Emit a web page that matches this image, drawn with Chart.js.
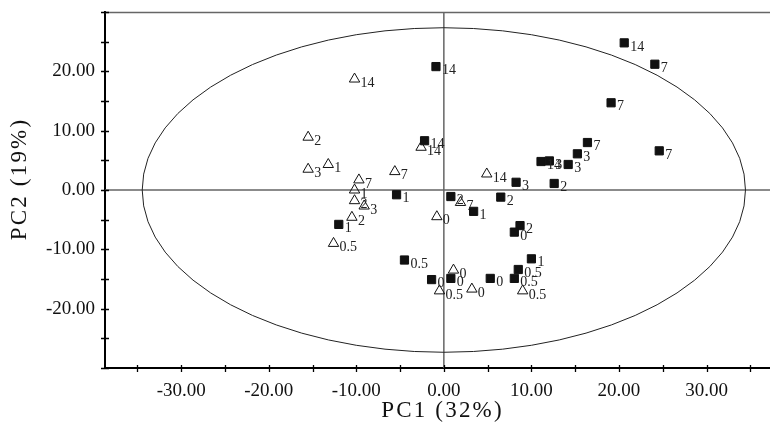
<!DOCTYPE html>
<html>
<head>
<meta charset="utf-8">
<script src="https://cdn.jsdelivr.net/npm/chart.js@4.4.1/dist/chart.umd.min.js"></script>
<style>
  html, body { margin: 0; padding: 0; background: #fff; }
  canvas { display: block; }
</style>
</head>
<body>
<canvas id="pca" width="770" height="428"></canvas>
<script>
// ── Data (PC1 / PC2 scores, label = day) ───────────────────────────
// filled squares
const sqX     = [20.6, 24.1, 19.1, 16.4, 15.25, 24.6, 14.2, 11.1, 12.05, 12.6, 8.25,
                 -0.9, -2.2, -5.4, -12.0, 0.8, 6.5, 3.4, 8.7, 8.05,
                 10.0, 8.5, 8.05, 5.3, 0.8, -1.4, -4.5];
const sqY     = [24.8, 21.2, 14.7, 8.0, 6.1, 6.6, 4.3, 4.8, 4.9, 1.1, 1.3,
                 20.8, 8.3, -0.8, -5.8, -1.1, -1.2, -3.6, -6.0, -7.1,
                 -11.6, -13.4, -14.9, -14.9, -14.9, -15.1, -11.8];
const sqLabel = ['14', '7', '7', '7', '3', '7', '3', '14', '3', '2', '3',
                 '14', '14', '1', '1', '2', '2', '1', '2', '0',
                 '1', '0.5', '0.5', '0', '0', '0', '0.5'];

// open triangles
const triX     = [-10.2, -15.5, -15.5, -13.2, -5.6, -9.7, -10.2, -10.2, -9.1, -10.5,
                  -12.6, -2.6, 4.9, 1.9, -0.8, 1.1, -0.5, 3.2, 9.0];
const triY     = [18.7, 8.9, 3.5, 4.3, 3.1, 1.7, 0.0, -1.8, -2.7, -4.6,
                  -9.0, 7.2, 2.7, -2.1, -4.5, -13.5, -17.0, -16.7, -17.0];
const triLabel = ['14', '2', '3', '1', '7', '7', '1', '2', '3', '2',
                  '0.5', '14', '14', '7', '0', '0', '0.5', '0', '0.5'];

// axis ranges and confidence ellipse (in data units)
const X_MIN = -38.7, X_MAX = 37.25;
const Y_MIN = -30, Y_MAX = 30;
const ELL_CX = 0, ELL_CY = 0, ELL_A = 34.45, ELL_B = 27.35;

const X_TITLE = 'PC1 (32%)', Y_TITLE = 'PC2 (19%)';
const SERIF = "'Liberation Serif', 'Times New Roman', serif";

function pts(xs, ys) { return xs.map((x, i) => ({ x, y: ys[i] })); }
function isStep(v, s) { return Math.abs(v / s - Math.round(v / s)) < 1e-6; }

// ── Plugins ────────────────────────────────────────────────────────
const frame = {
  id: 'frame',
  beforeDatasetsDraw(chart) {
    const { ctx, chartArea: a, scales: { x, y } } = chart;
    ctx.save();
    ctx.strokeStyle = '#666'; ctx.lineWidth = 1.5;
    const x0 = x.getPixelForValue(0), y0 = y.getPixelForValue(0);
    ctx.beginPath();
    ctx.moveTo(a.left, a.top + 0.5); ctx.lineTo(a.right, a.top + 0.5);
    ctx.moveTo(x0, a.top); ctx.lineTo(x0, a.bottom);
    ctx.moveTo(a.left, y0); ctx.lineTo(a.right, y0);
    ctx.stroke();

    // ellipse
    const cx = x.getPixelForValue(ELL_CX), cy = y.getPixelForValue(ELL_CY);
    const rx = x.getPixelForValue(ELL_CX + ELL_A) - cx;
    const ry = cy - y.getPixelForValue(ELL_CY + ELL_B);
    ctx.beginPath(); ctx.rect(a.left, a.top, a.right - a.left, a.bottom - a.top); ctx.clip();
    ctx.strokeStyle = '#222'; ctx.lineWidth = 1;
    ctx.beginPath(); ctx.ellipse(cx, cy, rx, ry, 0, 0, Math.PI * 2); ctx.stroke();
    ctx.restore();
  },
  afterDatasetsDraw(chart) {
    const { ctx } = chart;
    ctx.save();
    ctx.font = '14px ' + SERIF;
    ctx.fillStyle = '#222';
    ctx.textBaseline = 'middle';
    chart.data.datasets.forEach((ds, i) => {
      chart.getDatasetMeta(i).data.forEach((p, j) => ctx.fillText(ds.labels[j], p.x + 6, p.y + 4));
    });
    ctx.restore();
  },
  afterDraw(chart) {
    const { ctx, chartArea: a, scales: { x, y } } = chart;
    ctx.save();
    // tick marks crossing the axes
    ctx.strokeStyle = '#000'; ctx.lineWidth = 1.3;
    ctx.beginPath();
    x.ticks.forEach(t => {
      if (!isStep(t.value, 5)) return;
      const px = Math.round(x.getPixelForValue(t.value)) + 0.5;
      ctx.moveTo(px, a.bottom - 3); ctx.lineTo(px, a.bottom + 4);
    });
    y.ticks.forEach(t => {
      if (!isStep(t.value, 5)) return;
      const py = Math.round(y.getPixelForValue(t.value)) + 0.5;
      ctx.moveTo(a.left - 4, py); ctx.lineTo(a.left + 4, py);
    });
    ctx.stroke();

    // axis titles (spaced serif)
    ctx.fillStyle = '#111';
    ctx.font = '23px ' + SERIF;
    ctx.letterSpacing = '2.2px';
    ctx.textAlign = 'center'; ctx.textBaseline = 'middle';
    ctx.fillText(X_TITLE, (a.left + a.right) / 2 + 5, chart.height - 17);
    ctx.translate(20, (a.top + a.bottom) / 2 - 11);
    ctx.rotate(-Math.PI / 2);
    ctx.fillText(Y_TITLE, 0, 0);
    ctx.restore();
  }
};

// ── Chart ──────────────────────────────────────────────────────────
new Chart(document.getElementById('pca').getContext('2d'), {
  type: 'scatter',
  data: {
    datasets: [
      { label: 'squares', data: pts(sqX, sqY), labels: sqLabel,
        pointStyle: 'rect', pointRadius: 5.8, pointHoverRadius: 5.8,
        backgroundColor: '#111', borderColor: '#111', borderWidth: 1 },
      { label: 'triangles', data: pts(triX, triY), labels: triLabel,
        pointStyle: 'triangle', pointRadius: 6, pointHoverRadius: 6,
        backgroundColor: 'rgba(0,0,0,0)', borderColor: '#111', borderWidth: 1 }
    ]
  },
  options: {
    responsive: false, animation: false, devicePixelRatio: 1,
    layout: { autoPadding: false, padding: { top: 12, right: 0, left: 0, bottom: 0 } },
    plugins: { legend: { display: false }, tooltip: { enabled: false } },
    scales: {
      x: {
        type: 'linear', min: X_MIN, max: X_MAX,
        grid: { display: false, drawTicks: false },
        border: { display: true, color: '#000', width: 2 },
        ticks: {
          stepSize: 5, includeBounds: false, autoSkip: false, maxRotation: 0,
          padding: 12, color: '#111', font: { family: SERIF, size: 19 },
          callback: v => (isStep(v, 10) && Math.abs(v) <= 30) ? v.toFixed(2) : ''
        },
        afterFit: s => { s.height = 60; s.paddingLeft = 0; s.paddingRight = 0; }
      },
      y: {
        type: 'linear', min: Y_MIN, max: Y_MAX,
        grid: { display: false, drawTicks: false },
        border: { display: true, color: '#000', width: 2 },
        ticks: {
          stepSize: 5, includeBounds: false, autoSkip: false,
          padding: 10, color: '#111', font: { family: SERIF, size: 19 },
          callback: v => (isStep(v, 10) && Math.abs(v) <= 20) ? v.toFixed(2) : ''
        },
        afterFit: s => { s.width = 105; s.paddingTop = 0; s.paddingBottom = 0; }
      }
    }
  },
  plugins: [frame]
});
</script>
</body>
</html>
